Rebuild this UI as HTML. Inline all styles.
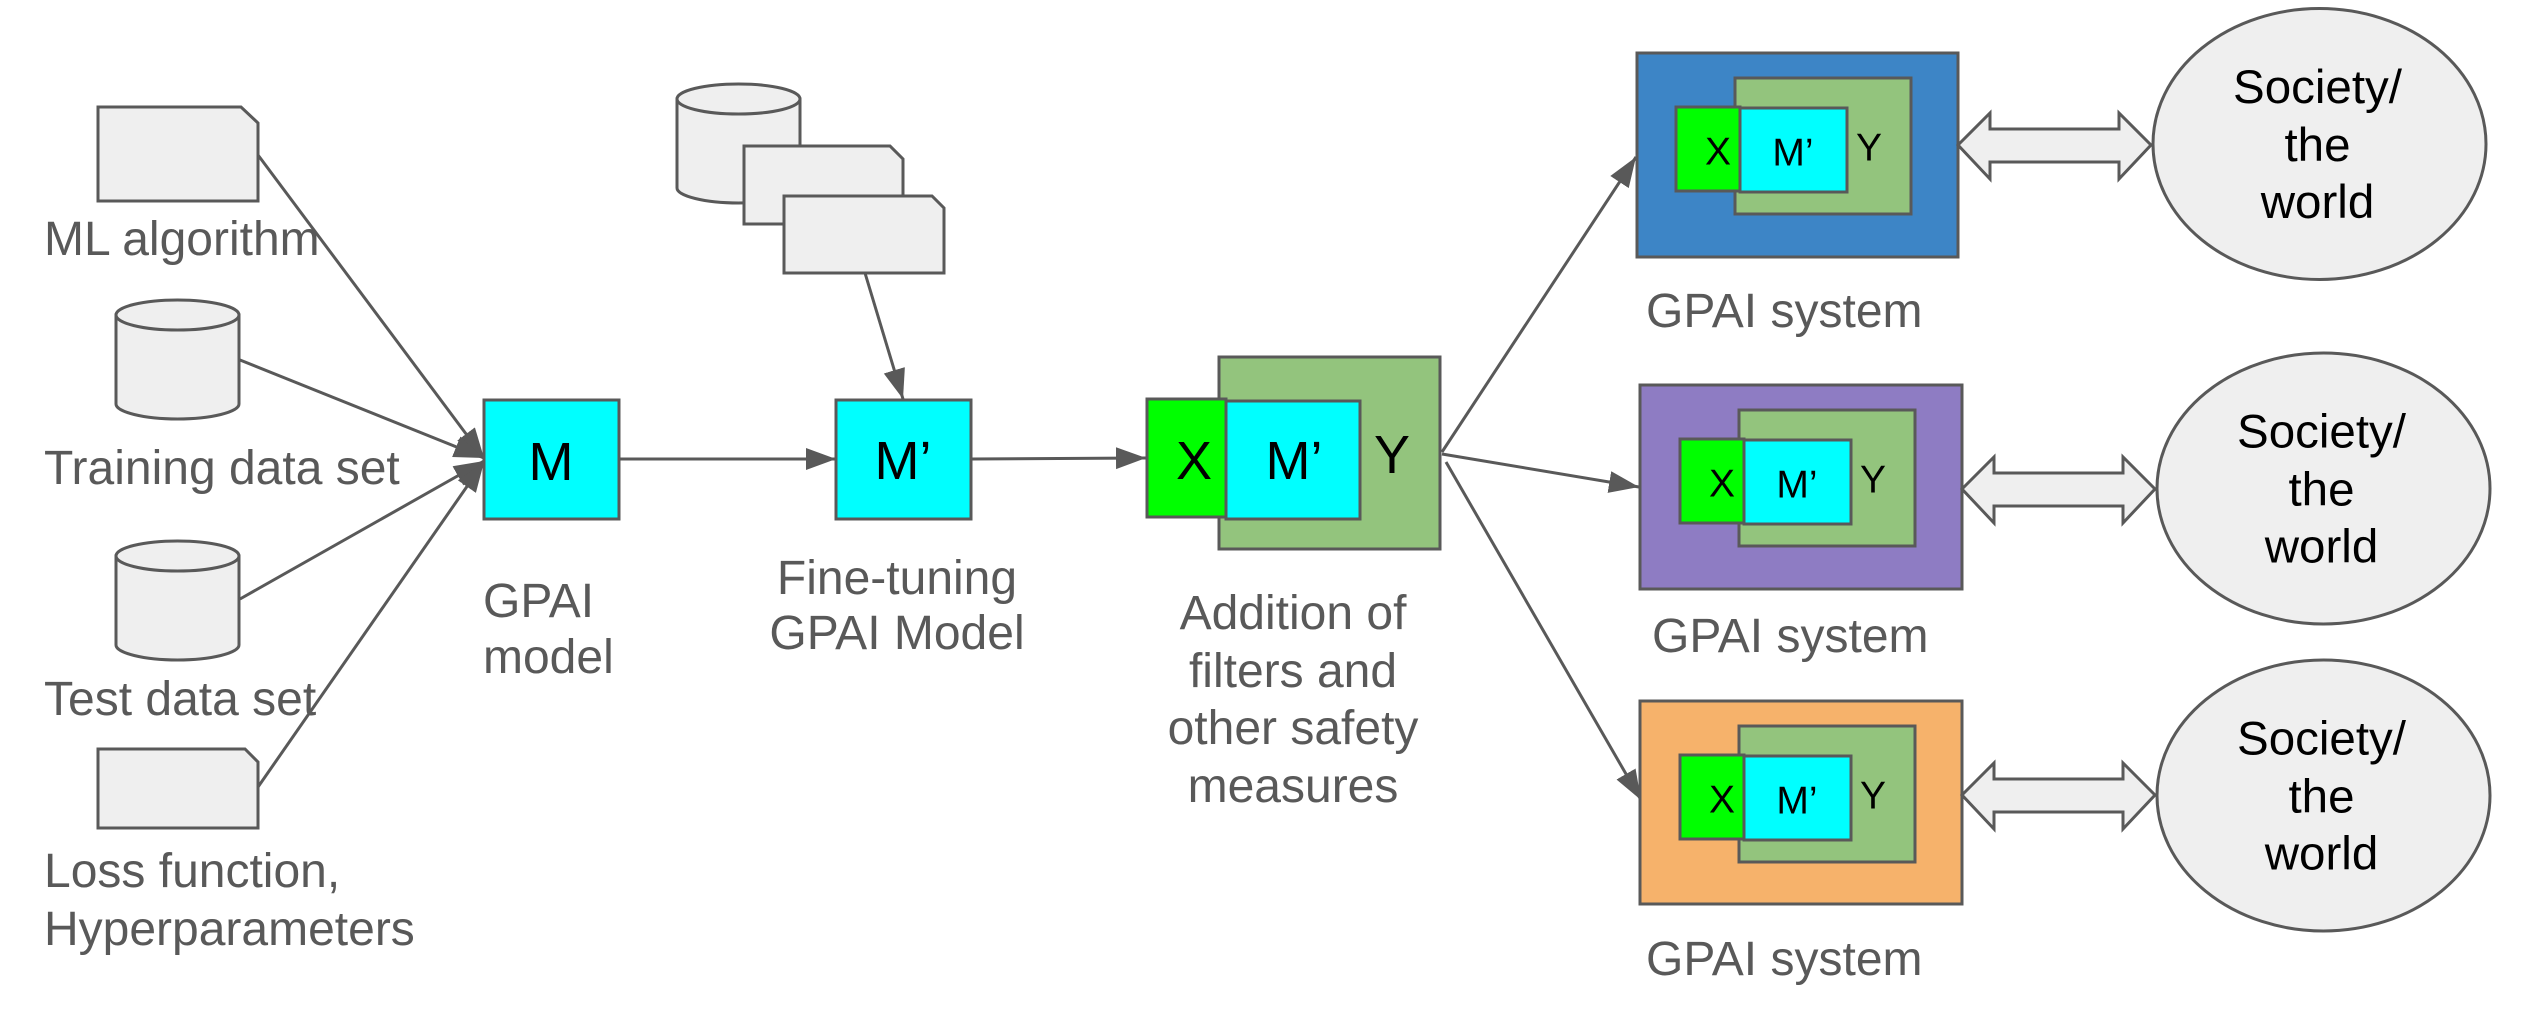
<!DOCTYPE html>
<html>
<head>
<meta charset="utf-8">
<style>
html,body{margin:0;padding:0;background:#fff;width:2544px;height:1019px;overflow:hidden}
svg{display:block}
text{font-family:"Liberation Sans",sans-serif}
.l{font-size:48px;fill:#595959}
.c{text-anchor:middle}
.s{stroke:#595959;stroke-width:3}
.g{fill:#efefef;stroke:#595959;stroke-width:3}
.w{font-size:47.500px;fill:#000;text-anchor:middle}
.big{font-size:54px;fill:#000;text-anchor:middle}
.sm{font-size:39px;fill:#000;text-anchor:middle}
.ln{stroke:#595959;stroke-width:3;fill:none;marker-end:url(#a)}
</style>
</head>
<body>
<svg width="2544" height="1019" viewBox="0 0 2544 1019" xmlns="http://www.w3.org/2000/svg">
<defs>
<marker id="a" markerUnits="userSpaceOnUse" markerWidth="31" markerHeight="24" refX="30" refY="12" orient="auto">
<path d="M0 1L30 12L0 23Z" fill="#595959"/>
</marker>
<g id="cyl">
<path class="g" d="M0 15V104C0 112 28 119 61.500 119S123 112 123 104V15Z"/>
<ellipse class="g" cx="61.500" cy="15" rx="61.500" ry="15"/>
</g>
<g id="sys">
<rect x="99" y="26" width="176" height="136" fill="#93c47d" class="s"/>
<rect x="40" y="55" width="64" height="84" fill="#00ff00" class="s"/>
<rect x="104" y="56" width="107" height="84" fill="#00ffff" class="s"/>
<text class="sm" x="82" y="112.500">X</text>
<text class="sm" x="157" y="113.500">M’</text>
<text class="sm" x="233" y="108.500">Y</text>
</g>
<g id="dbl">
<path d="M0 32L32 0V16H161V0L193 32L161 66V49H32V66Z" class="g" stroke-linejoin="miter"/>
</g>
<g id="soc">
<ellipse cx="0" cy="0" rx="166.500" ry="135.500" class="g"/>
<text class="w" x="-2" y="-41">Society/</text>
<text class="w" x="-2" y="17">the</text>
<text class="w" x="-2" y="74">world</text>
</g>
</defs>

<!-- left inputs -->
<path class="g" d="M98 107H241L258 123V201H98Z"/>
<use href="#cyl" x="116" y="300"/>
<use href="#cyl" x="116" y="541"/>
<path class="g" d="M98 749H245L258 762V828H98Z"/>

<line class="ln" x1="258" y1="155" x2="484" y2="458"/>
<line class="ln" x1="240" y1="360" x2="484" y2="458"/>
<line class="ln" x1="240" y1="599" x2="484" y2="461"/>
<line class="ln" x1="258" y1="787" x2="484" y2="462"/>

<text class="l" x="44" y="255">ML algorithm</text>
<text class="l" x="44" y="484">Training data set</text>
<text class="l" x="44" y="715">Test data set</text>
<text class="l" x="44" y="887">Loss function,</text>
<text class="l" x="44" y="945">Hyperparameters</text>

<!-- M -->
<rect x="484" y="400" width="135" height="119" fill="#00ffff" class="s"/>
<text class="big" x="551" y="480">M</text>
<text class="l" x="483" y="617">GPAI</text>
<text class="l" x="483" y="673">model</text>

<line class="ln" x1="619" y1="459" x2="836" y2="459"/>

<!-- fine-tuning stack -->
<use href="#cyl" x="677" y="84"/>
<path class="g" d="M744 146H890L903 159V224H744Z"/>
<path class="g" d="M784 196H932L944 208V273H784Z"/>
<line class="ln" x1="865" y1="273" x2="903" y2="399"/>

<rect x="836" y="400" width="135" height="119" fill="#00ffff" class="s"/>
<text class="big" x="903" y="479">M’</text>
<text class="l c" x="897" y="594">Fine-tuning</text>
<text class="l c" x="897" y="649">GPAI Model</text>

<line class="ln" x1="971" y1="459" x2="1146" y2="458"/>

<!-- filters -->
<rect x="1219" y="357" width="221" height="192" fill="#93c47d" class="s"/>
<rect x="1147" y="399" width="79" height="118" fill="#00ff00" class="s"/>
<rect x="1226" y="401" width="134" height="118" fill="#00ffff" class="s"/>
<text class="big" x="1194" y="479">X</text>
<text class="big" x="1294" y="479">M’</text>
<text class="big" x="1392" y="473">Y</text>
<text class="l c" x="1293" y="629">Addition of</text>
<text class="l c" x="1293" y="687">filters and</text>
<text class="l c" x="1293" y="744">other safety</text>
<text class="l c" x="1293" y="802">measures</text>

<line class="ln" x1="1442" y1="452" x2="1636" y2="157"/>
<line class="ln" x1="1442" y1="454" x2="1639" y2="487"/>
<line class="ln" x1="1446" y1="462" x2="1641" y2="800"/>

<!-- systems -->
<rect x="1637" y="53" width="321" height="204" fill="#3d85c6" class="s"/>
<use href="#sys" x="1636" y="52"/>
<text class="l" x="1646" y="327">GPAI system</text>
<use href="#dbl" x="1958" y="113"/>
<use href="#soc" x="2319.500" y="144"/>

<rect x="1640" y="385" width="322" height="204" fill="#8e7cc3" class="s"/>
<use href="#sys" x="1640" y="384"/>
<text class="l" x="1652" y="652">GPAI system</text>
<use href="#dbl" x="1962" y="457"/>
<use href="#soc" x="2323.500" y="488.500"/>

<rect x="1640" y="701" width="322" height="203" fill="#f6b26b" class="s"/>
<use href="#sys" x="1640" y="700"/>
<text class="l" x="1646" y="975">GPAI system</text>
<use href="#dbl" x="1962" y="763"/>
<use href="#soc" x="2323.500" y="795.500"/>
</svg>
</body>
</html>
